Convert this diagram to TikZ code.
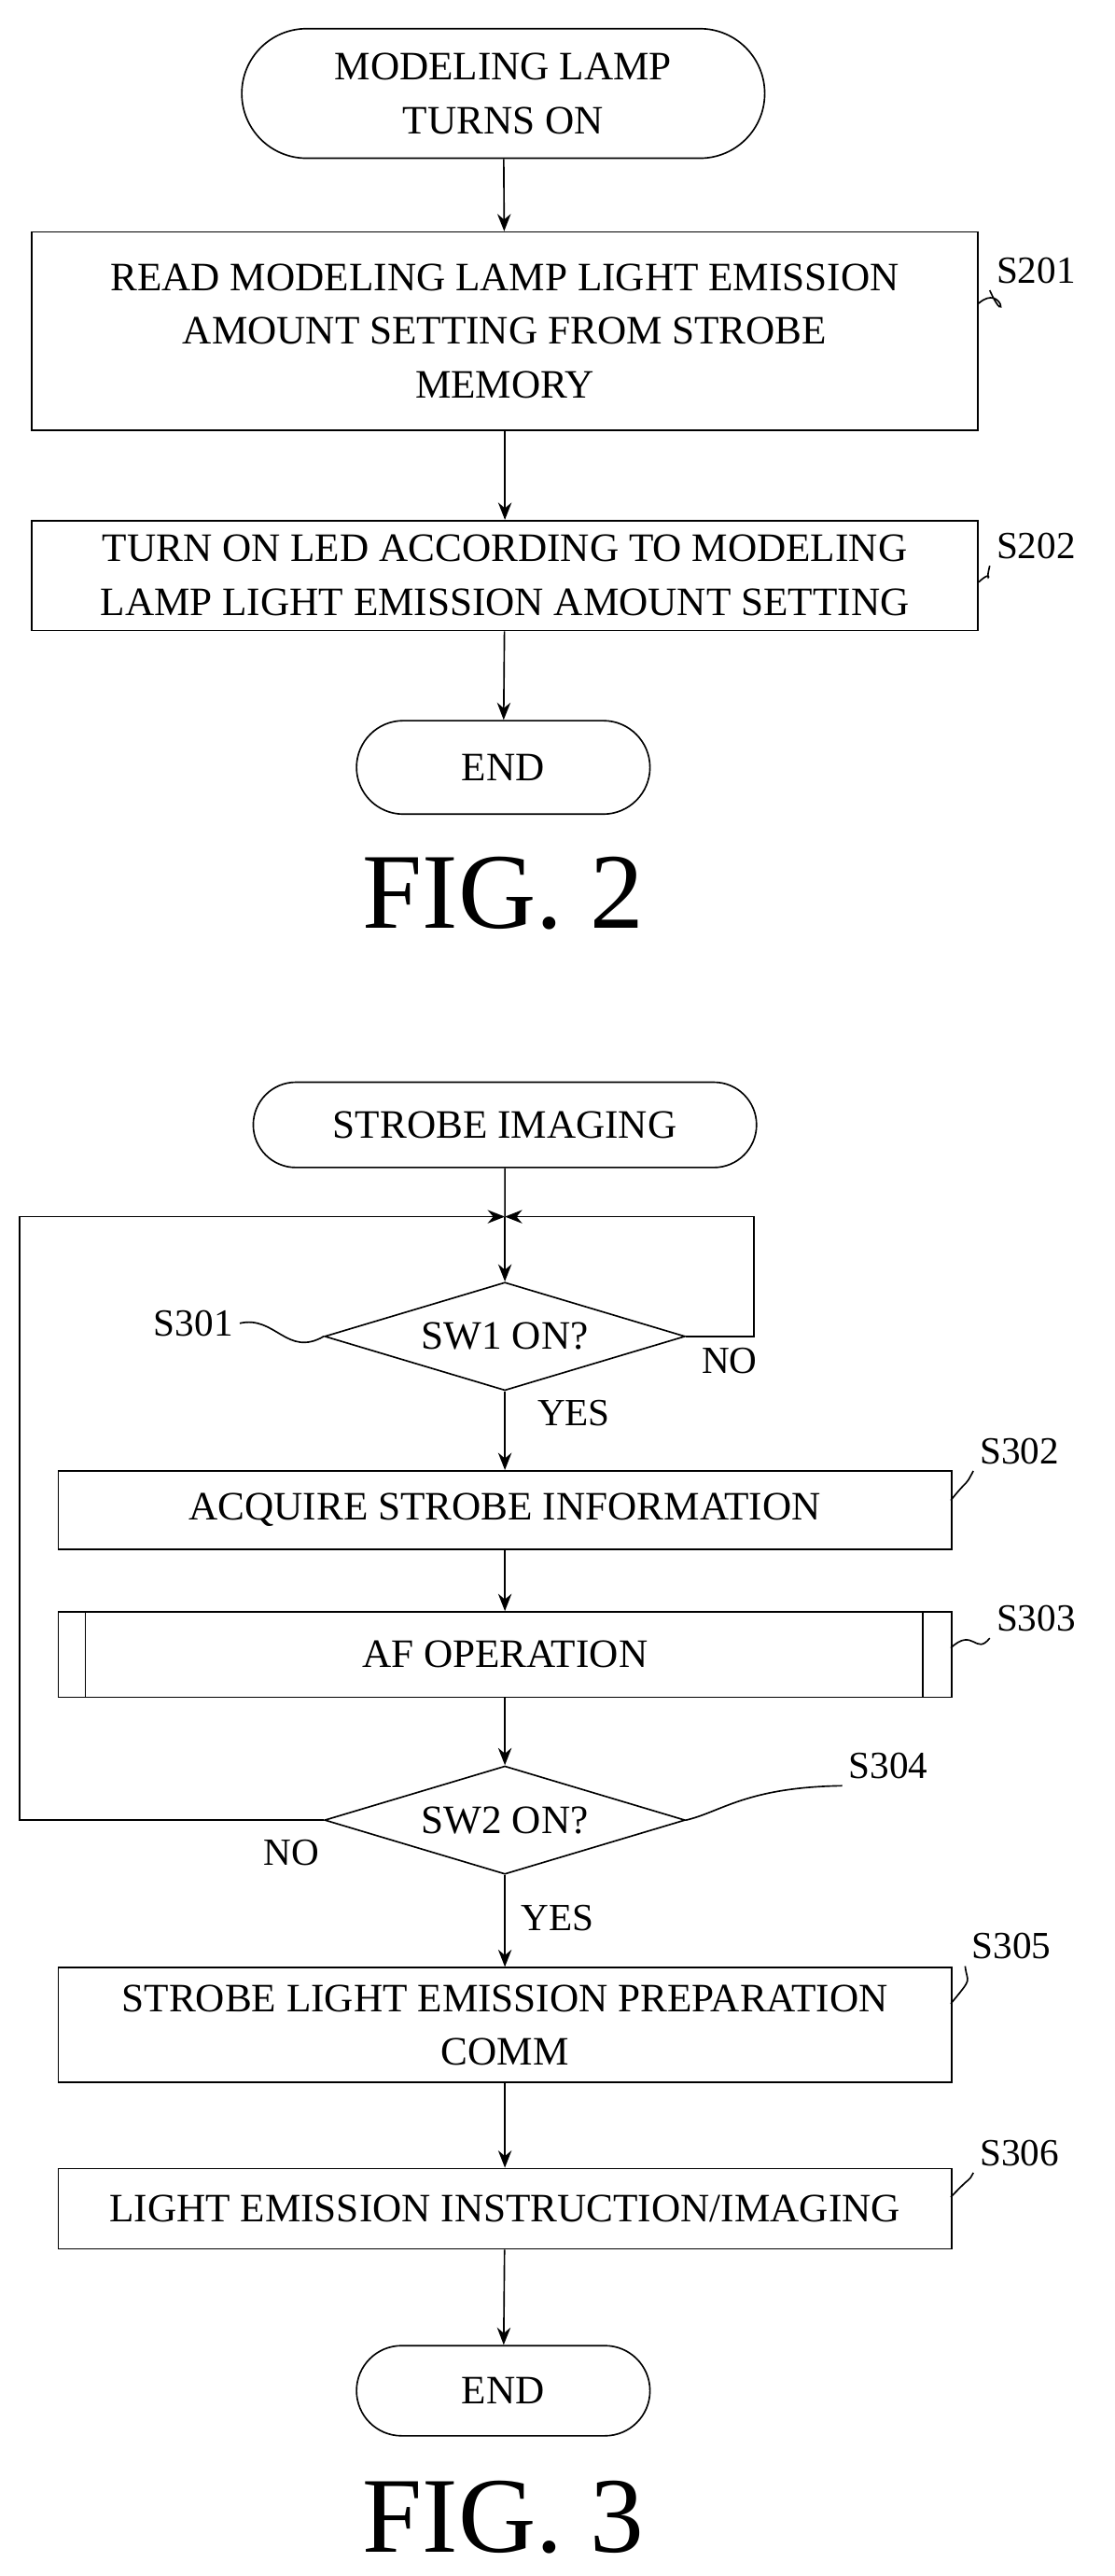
\documentclass[tikz,border=0pt]{standalone}
\usepackage{fontspec}
\setmainfont{Liberation Serif}
\usetikzlibrary{positioning,shapes.geometric,shapes.misc,arrows.meta}
\begin{document}
\begin{tikzpicture}[x=0.03cm,y=-0.03cm,
  every node/.style={font=\fontsize{21}{28}\selectfont,align=center},
  box/.style={draw,thick,rectangle,inner sep=0pt},
  term/.style={draw,thick,rounded rectangle,inner sep=0pt},
  dec/.style={draw,thick,diamond,inner sep=0pt,shape aspect=2.6,minimum width=6.6cm,minimum height=1.98cm},
  flow/.style={thick,-{Stealth[length=9pt,width=7pt]}},
  tag/.style={font=\fontsize{20}{22}\selectfont}]
\useasboundingbox (0,0) rectangle (680,1571);
% FIG. 2
\node[term,minimum width=9.57cm,minimum height=2.37cm] (m0) at (307,57) {MODELING LAMP\\TURNS ON};
\node[box,minimum width=17.31cm,minimum height=3.63cm] (m1) at (308,202) {READ MODELING LAMP LIGHT EMISSION\\AMOUNT SETTING FROM STROBE\\MEMORY};
\node[box,minimum width=17.31cm,minimum height=2.01cm] (m2) at (308,351) {TURN ON LED ACCORDING TO MODELING\\LAMP LIGHT EMISSION AMOUNT SETTING};
\node[term,minimum width=5.37cm,minimum height=1.71cm] (m3) at (307,468) {END};
\node[font=\fontsize{56}{56}\selectfont] (f2) at (307,545) {FIG. 2};
\draw[flow] (m0) -- (m1);
\draw[flow] (m1) -- (m2);
\draw[flow] (m2) -- (m3);
\node[tag] (t201) at (632,165) {S201};
\node[tag] (t202) at (632,333) {S202};
\draw[thick] (597,185) .. controls (612,172) and (615,202) .. (t201.south west);
\draw[thick] (597,355) .. controls (608,345) and (600,360) .. (t202.south west);
% FIG. 3
\node[term,minimum width=9.21cm,minimum height=1.56cm] (s0) at (308,686) {STROBE IMAGING};
\coordinate (j) at (308,742);
\node[dec] (d1) at (308,815) {SW1 ON?};
\node[box,minimum width=16.35cm,minimum height=1.44cm] (s2) at (308,921) {ACQUIRE STROBE INFORMATION};
\node[box,minimum width=16.35cm,minimum height=1.56cm] (s3) at (308,1009) {AF OPERATION};
\draw[thick] (52,983) -- (52,1035) (563,983) -- (563,1035);
\node[dec] (d2) at (308,1110) {SW2 ON?};
\node[box,minimum width=16.35cm,minimum height=2.1cm] (s5) at (308,1235) {STROBE LIGHT EMISSION PREPARATION\\COMM};
\node[box,minimum width=16.35cm,minimum height=1.47cm] (s6) at (308,1347) {LIGHT EMISSION INSTRUCTION/IMAGING};
\node[term,minimum width=5.37cm,minimum height=1.65cm] (s7) at (307,1458) {END};
\node[font=\fontsize{56}{56}\selectfont] (f3) at (307,1535) {FIG. 3};
\draw[thick] (s0) -- (j);
\draw[flow] (j) -- (d1);
\draw[flow] (d1) -- (s2);
\draw[flow] (s2) -- (s3);
\draw[flow] (s3) -- (d2);
\draw[flow] (d2) -- (s5);
\draw[flow] (s5) -- (s6);
\draw[flow] (s6) -- (s7);
\draw[flow] (d1.east) -- (460,815) -- (460,742) -- (j);
\draw[flow] (d2.west) -- (12,1110) -- (12,742) -- (j);
\node[tag] (n1) at (445,830) {NO};
\node[tag] (y1) at (350,862) {YES};
\node[tag] (n2) at (178,1130) {NO};
\node[tag] (y2) at (340,1170) {YES};
\node[tag] (t301) at (118,807) {S301};
\node[tag] (t302) at (622,885) {S302};
\node[tag] (t303) at (632,987) {S303};
\node[tag] (t304) at (542,1077) {S304};
\node[tag] (t305) at (617,1187) {S305};
\node[tag] (t306) at (622,1313) {S306};
\draw[thick] (t301.east) .. controls (168,802) and (175,828) .. (d1.west);
\draw[thick] (580,915) .. controls (592,900) and (588,908) .. (t302.south west);
\draw[thick] (580,1005) .. controls (594,992) and (595,1010) .. (t303.south west);
\draw[thick] (d2.east) .. controls (440,1105) and (455,1090) .. (t304.south west);
\draw[thick] (580,1222) .. controls (594,1205) and (590,1210) .. (t305.south west);
\draw[thick] (580,1340) .. controls (594,1325) and (590,1332) .. (t306.south west);
\end{tikzpicture}
\end{document}
